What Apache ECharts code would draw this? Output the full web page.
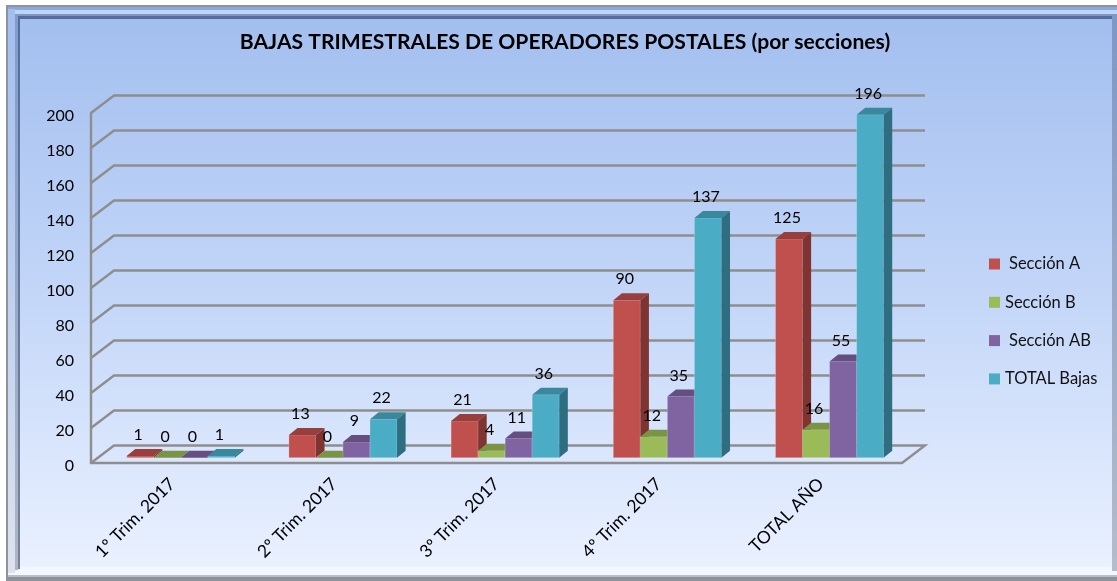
<!DOCTYPE html>
<html>
<head>
<meta charset="utf-8">
<style>html,body{margin:0;padding:0;background:#fff}#c{width:1117px;height:581px}</style>
<script src="https://cdn.jsdelivr.net/npm/echarts@6/dist/echarts.min.js"></script>
</head>
<body>
<div id="c"></div>
<script>
const titleText = 'BAJAS TRIMESTRALES DE OPERADORES POSTALES (por secciones)';
const categories = ['1º Trim. 2017', '2º Trim. 2017', '3º Trim. 2017', '4º Trim. 2017', 'TOTAL AÑO'];
const seriesNames = ['Sección A', 'Sección B', 'Sección AB', 'TOTAL Bajas'];
const seccionA = [1, 13, 21, 90, 125];
const seccionB = [0, 0, 4, 12, 16];
const seccionAB = [0, 9, 11, 35, 55];
const totalBajas = [1, 22, 36, 137, 196];
const yTicks = [0, 20, 40, 60, 80, 100, 120, 140, 160, 180, 200];
const seriesValues = [seccionA, seccionB, seccionAB, totalBajas];

const FONT = 'Lato, "Open Sans", sans-serif';
const front = ['#C0504D', '#9BBB59', '#8064A2', '#4BACC6'];
const topFace = ['#973F3C', '#7A9345', '#654F80', '#3A889D'];
const sideFace = ['#7F3431', '#667B39', '#543F6B', '#2F6E80'];
const GRID = '#8E8E8E';
const WALL_DX = 23, WALL_DY = 17.5;      // wall depth
const BAR_DX = 8.6, BAR_DY = 7;          // bar depth
const FLOOR_DY = 5.3;                    // bars stand this far behind the front edge

function poly(points, fill, extra) {
  return Object.assign({ type: 'polygon', shape: { points }, style: { fill } }, extra || {});
}
function vgrad(a, b) {
  return new echarts.graphic.LinearGradient(0, 0, 0, 1, [{ offset: 0, color: a }, { offset: 1, color: b }]);
}
function frameRect(x, y, w, h, fill) {
  return { type: 'rect', z: -10, silent: true, shape: { x, y, width: w, height: h }, style: { fill } };
}
const frame = [
  frameRect(6, 5, 1111, 576, '#8F949C'),
  frameRect(8, 7, 1109, 12, '#9DB6E6'),
  frameRect(8, 7, 1109, 3, '#8CA7D8'),
  frameRect(8, 10, 1109, 4, '#BCD5FB'),
  frameRect(8, 14, 1109, 2, '#7E97C4'),
  frameRect(8, 16, 1109, 3, '#566E97'),
  frameRect(8, 567, 1109, 8, '#F3F7FF'),
  frameRect(8, 575, 1109, 2, '#B9BEC8'),
  frameRect(8, 577, 1109, 2, '#8D9198'),
  frameRect(8, 9, 7, 564, vgrad('#A3BEEF', '#DDE3EE')),
  frameRect(15, 14, 3, 556, vgrad('#7F9CD0', '#AEB6C6')),
  frameRect(18, 16, 2, 553, vgrad('#566E97', '#77849B')),
  frameRect(1112, 16, 5, 555, vgrad('#7F97C6', '#B5BCCB')),
  frameRect(20, 19, 1092, 548, new echarts.graphic.LinearGradient(0, 0, 0, 1, [
    { offset: 0, color: '#A3BFEF' },
    { offset: 0.5, color: '#C3D6F8' },
    { offset: 1, color: '#EAF1FF' }
  ]))
];

function renderWall(params, api) {
  const c = params.coordSys;
  const y = api.coord([0, api.value(1)])[1];
  const right = c.x + c.width;
  const pts = [[c.x, y], [c.x + WALL_DX, y - WALL_DY], [right + WALL_DX, y - WALL_DY]];
  if (api.value(1) === 0) pts.push([right, y]);
  return {
    type: 'polyline', shape: { points: pts },
    style: { stroke: GRID, lineWidth: 2.4, fill: 'none' }, silent: true
  };
}

function barGeom(api, idx) {
  const band = api.size([1, 0])[0];
  const base = api.coord([api.value(0), 0]);
  const tip = api.coord([api.value(0), api.value(1)]);
  const w = band / 6;
  const x0 = base[0] - band / 2 + band * 0.22 + idx * w;
  return { x0, x1: x0 + w, yb: base[1] - FLOOR_DY, yt: tip[1] - FLOOR_DY };
}
function renderBar(idx) {
  return function (params, api) {
    const g = barGeom(api, idx);
    const children = [
      poly([[g.x0, g.yb], [g.x1, g.yb], [g.x1, g.yt], [g.x0, g.yt]], front[idx], { style: { fill: front[idx], stroke: 'rgba(255,255,255,0.22)', lineWidth: 1 } }),
      poly([[g.x0, g.yt], [g.x1, g.yt], [g.x1 + BAR_DX, g.yt - BAR_DY], [g.x0 + BAR_DX, g.yt - BAR_DY]], topFace[idx]),
      poly([[g.x1, g.yb], [g.x1 + BAR_DX, g.yb - BAR_DY], [g.x1 + BAR_DX, g.yt - BAR_DY], [g.x1, g.yt]], sideFace[idx])
    ];
    return { type: 'group', children };
  };
}
function renderLabel(idx) {
  return function (params, api) {
    const g = barGeom(api, idx);
    return {
      type: 'text', silent: true,
      style: {
        text: String(api.value(1)), x: (g.x0 + g.x1) / 2 - 2, y: g.yt - 21,
        align: 'center', verticalAlign: 'middle',
        fill: '#000', font: '16px ' + FONT
      }
    };
  };
}

const series = [{
  type: 'custom', name: 'wall', silent: true, z: 1, clip: false,
  data: yTicks.map(v => [0, v]), encode: { x: 0, y: 1 }, renderItem: renderWall
}];
seriesValues.forEach((vals, i) => series.push({
  type: 'custom', name: seriesNames[i], z: 3, clip: false,
  itemStyle: { color: front[i] },
  data: vals.map((v, k) => [k, v]), encode: { x: 0, y: 1 }, renderItem: renderBar(i)
}));
seriesValues.forEach((vals, i) => series.push({
  type: 'custom', name: 'labels' + i, z: 5, silent: true, clip: false,
  data: vals.map((v, k) => [k, v]), encode: { x: 0, y: 1 }, renderItem: renderLabel(i)
}));

const chart = echarts.init(document.getElementById('c'), null, { renderer: 'canvas' });
chart.setOption({
  animation: false,
  backgroundColor: '#fff',
  graphic: { elements: frame },
  title: {
    text: titleText, left: 560, top: 27, textAlign: 'center',
    textStyle: { fontFamily: FONT, fontSize: 21.1, fontWeight: 'bold', color: '#000' }
  },
  legend: {
    orient: 'vertical', left: 989, top: 249, padding: 0, itemWidth: 11, itemHeight: 11, itemGap: 8.3,
    selectedMode: false,
    data: [
      { name: seriesNames[0], icon: 'rect', textStyle: { padding: [4, 0, 4, 4] } },
      { name: seriesNames[1], icon: 'rect', textStyle: { padding: [4, 0, 4, 0] } },
      { name: seriesNames[2], icon: 'rect', textStyle: { padding: [4, 0, 4, 4] } },
      { name: seriesNames[3], icon: 'rect', textStyle: { padding: [4, 0, 4, 0] } }
    ],
    textStyle: { fontFamily: FONT, fontSize: 16.5, color: '#111', lineHeight: 22 }
  },
  grid: { left: 91, top: 113, width: 811, height: 350, containLabel: false },
  xAxis: {
    type: 'category', data: categories,
    axisLine: { show: true, lineStyle: { color: GRID, width: 2.4 } },
    axisTick: { show: false },
    splitLine: { show: false },
    axisLabel: { rotate: 45, margin: 18, fontFamily: FONT, fontSize: 17.5, color: '#000', interval: 0 }
  },
  yAxis: {
    type: 'value', min: 0, max: 200, interval: 20,
    axisLine: { show: true, lineStyle: { color: GRID, width: 2.4 } },
    axisTick: { show: false },
    splitLine: { show: false },
    axisLabel: { margin: 17, verticalAlign: 'top', lineHeight: 5, fontFamily: FONT, fontSize: 16, color: '#000' }
  },
  series
});
</script>
</body>
</html>
